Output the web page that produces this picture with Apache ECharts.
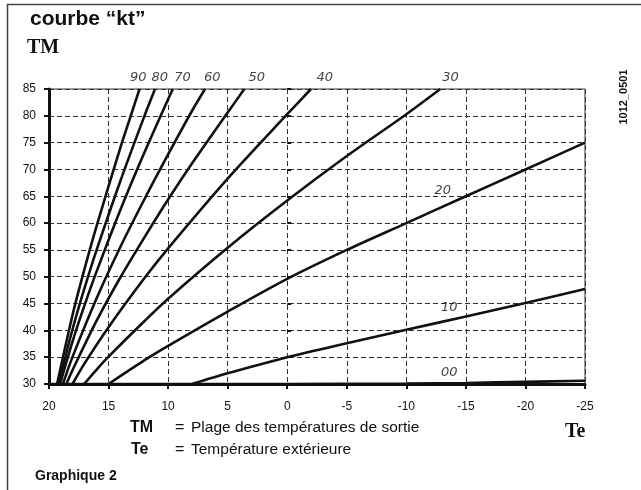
<!DOCTYPE html>
<html>
<head>
<meta charset="utf-8">
<script src="https://cdn.jsdelivr.net/npm/echarts@6/dist/echarts.min.js"></script>
<style>
  html, body { margin: 0; padding: 0; background: #fff; }
  #chart { width: 641px; height: 490px; }
</style>
</head>
<body>
<div id="chart"></div>
<script>
// courbes kt : [Te, TM]
const kt00 = [[20, 30], [0, 30], [-10, 30.1], [-15, 30.2], [-20, 30.4], [-25, 30.6]];
const kt10 = [[8, 30], [5, 32], [0, 35], [-5, 37.6], [-10, 40.1], [-15, 42.6], [-20, 45.1], [-25, 47.7]];
const kt20 = [[15, 30], [12, 34.4], [10, 37.1], [5, 43.5], [0, 49.6], [-5, 55], [-10, 60], [-15, 65], [-20, 70], [-25, 75]];
const kt30 = [[17.05, 30], [16, 32.7], [15, 35.1], [12, 41.7], [10, 45.9], [5, 55.4], [0, 64.2], [-5, 72.5], [-10, 80.3], [-12.85, 85]];
const kt40 = [[18.03, 30], [17, 33.9], [15, 40.6], [12, 49.7], [10, 55.3], [5, 68.3], [0, 80.3], [-2, 85]];
const kt50 = [[18.54, 30], [18, 32.7], [16, 41.8], [14, 49.9], [12, 57.3], [10, 64.4], [8, 71.1], [5, 80.6], [3.6, 85]];
const kt60 = [[18.83, 30], [18, 35.2], [16, 46], [14, 55.6], [12, 64.4], [10, 72.8], [8, 80.9], [6.9, 85]];
const kt70 = [[19.07, 30], [18, 38.1], [17, 44.8], [16, 51], [14, 62.5], [12, 73.1], [10, 83.1], [9.6, 85]];
const kt80 = [[19.2, 30], [18, 40.4], [17, 48], [16, 55], [14, 67.9], [12, 79.9], [11.1, 85]];
const kt90 = [[19.32, 30], [18, 43.1], [17, 51.6], [16, 59.5], [14, 74.1], [13, 80.9], [12.4, 85]];

const curves = [kt00, kt10, kt20, kt30, kt40, kt50, kt60, kt70, kt80, kt90];

// étiquettes des courbes
const labelTe = [12.5, 10.7, 8.8, 6.3, 2.55, -3.15, -13.7, -13.05, -13.6, -13.6];
const labelTM = [87.2, 87.2, 87.2, 87.2, 87.2, 87.2, 87.2, 66, 44.2, 32.2];
const labelText = ['90', '80', '70', '60', '50', '40', '30', '20', '10', '00'];

const chart = echarts.init(document.getElementById('chart'), null, { renderer: 'canvas' });

const axisFont = 'Liberation Sans';
const ink = '#111';

const option = {
  animation: false,
  backgroundColor: '#fff',
  grid: {
    left: 49,
    top: 89,
    width: 536,
    height: 295,
    show: true,
    borderColor: '#333',
    borderWidth: 1,
    outerBoundsMode: 'none',
  },
  xAxis: [
    {
      type: 'value',
      min: -25,
      max: 20,
      interval: 5,
      inverse: true,
      axisLine: { show: true, onZero: false, lineStyle: { color: ink, width: 3 } },
      axisTick: { show: true, length: 5, lineStyle: { color: ink, width: 2 } },
      axisLabel: { color: ink, fontSize: 12, fontFamily: axisFont, margin: 17 },
      splitLine: { show: true, lineStyle: { type: [5, 3], color: '#333', width: 1 } },
    },
  ],
  yAxis: [
    {
      type: 'value',
      min: 30,
      max: 85,
      interval: 5,
      axisLine: { show: true, onZero: false, lineStyle: { color: ink, width: 3 } },
      axisTick: { show: true, length: 5, lineStyle: { color: ink, width: 2 } },
      axisLabel: { color: ink, fontSize: 12, fontFamily: axisFont, margin: 13 },
      splitLine: { show: true, lineStyle: { type: [5, 3], color: '#333', width: 1 } },
    },
    {
      // petits traits côté intérieur
      type: 'value',
      min: 30,
      max: 85,
      interval: 5,
      position: 'left',
      axisLine: { show: false },
      axisTick: { show: true, inside: true, length: 4, lineStyle: { color: ink, width: 2 } },
      axisLabel: { show: false },
      splitLine: { show: false },
    },
  ],
  series: curves
    .map((data) => ({
      type: 'line',
      data: data,
      smooth: 0.3,
      symbol: 'none',
      silent: true,
      lineStyle: { color: ink, width: 2.6 },
      z: 3,
    }))
    .concat([
      {
        type: 'scatter',
        clip: false,
        symbolSize: 1,
        itemStyle: { color: 'rgba(0,0,0,0)' },
        data: labelText.map((t, i) => [labelTe[i], labelTM[i], t]),
        label: {
          show: true,
          position: 'inside',
          formatter: (p) => p.value[2],
          fontStyle: 'italic',
          fontSize: 13,
          fontFamily: 'DejaVu Sans',
          color: ink,
        },
        z: 5,
      },
    ]),
  graphic: [
    {
      type: 'rect',
      shape: { x: 7.5, y: 4.5, width: 700, height: 600 },
      style: { fill: 'none', stroke: '#444', lineWidth: 1.5 },
    },
    {
      type: 'text',
      left: 30,
      top: 9,
      style: { text: 'courbe “kt”', font: 'bold 21px "Liberation Sans"', fill: ink },
    },
    {
      type: 'text',
      left: 27,
      top: 38,
      style: { text: 'TM', font: 'bold 20px "Liberation Serif"', fill: ink },
    },
    {
      type: 'text',
      x: 624,
      y: 97,
      rotation: Math.PI / 2,
      style: {
        text: '1012_0501',
        font: 'bold 11px "Liberation Sans"',
        fill: ink,
        align: 'center',
        verticalAlign: 'middle',
      },
    },
    {
      type: 'text',
      left: 130,
      top: 420,
      style: { text: 'TM', font: 'bold 16px "Liberation Sans"', fill: ink },
    },
    {
      type: 'text',
      left: 175,
      top: 420,
      style: { text: '=', font: '16px "Liberation Sans"', fill: ink },
    },
    {
      type: 'text',
      left: 191,
      top: 420,
      style: { text: 'Plage des températures de sortie', font: '15.5px "Liberation Sans"', fill: ink },
    },
    {
      type: 'text',
      left: 131,
      top: 442,
      style: { text: 'Te', font: 'bold 16px "Liberation Sans"', fill: ink },
    },
    {
      type: 'text',
      left: 175,
      top: 442,
      style: { text: '=', font: '16px "Liberation Sans"', fill: ink },
    },
    {
      type: 'text',
      left: 191,
      top: 442,
      style: { text: 'Température extérieure', font: '15.5px "Liberation Sans"', fill: ink },
    },
    {
      type: 'text',
      left: 565,
      top: 422,
      style: { text: 'Te', font: 'bold 20px "Liberation Serif"', fill: ink },
    },
    {
      type: 'text',
      left: 35,
      top: 469,
      style: { text: 'Graphique 2', font: 'bold 14px "Liberation Sans"', fill: ink },
    },
  ],
};

chart.setOption(option);
</script>
</body>
</html>
